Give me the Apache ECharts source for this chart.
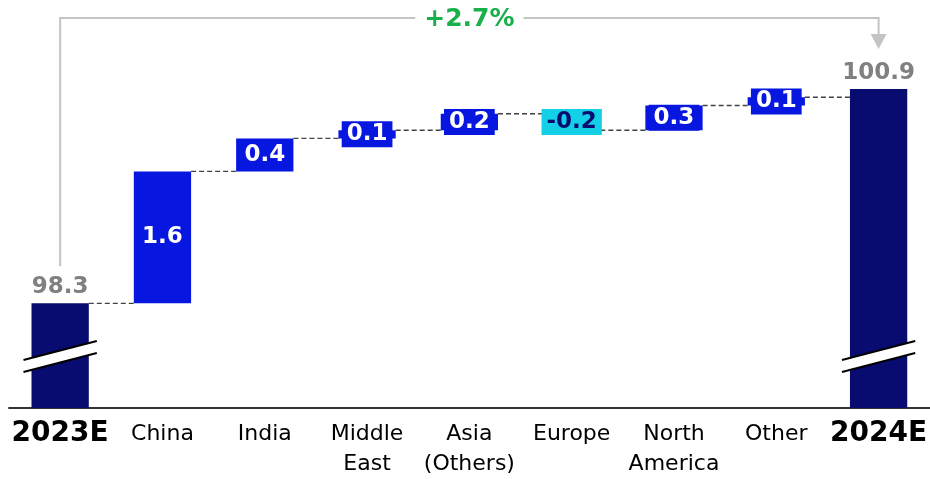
<!DOCTYPE html>
<html>
<head>
<meta charset="utf-8">
<script src="https://cdn.jsdelivr.net/npm/echarts@6/dist/echarts.min.js"></script>
<style>
  html, body { margin: 0; padding: 0; background: #fff; }
  #chart { width: 930px; height: 479px; }
</style>
</head>
<body>
<div id="chart"></div>
<script>
// Waterfall: 2023E -> 2024E, contribution by region
const categories = ['2023E', 'China', 'India', 'Middle\nEast', 'Asia\n(Others)', 'Europe', 'North\nAmerica', 'Other', '2024E'];
const startTotal = 98.3;
const deltas = [1.6, 0.4, 0.1, 0.2, -0.2, 0.3, 0.1];
const endTotal = 100.9;
const growthLabel = '+2.7%';

const NAVY = '#080b70';
const BLUE = '#0717e0';
const CYAN = '#13d0e6';
const FONT = '"DejaVu Sans", Verdana, sans-serif';
const BAR_RATIO = 0.56;

const r1 = v => Math.round(v * 10) / 10;

// Derived stacks: hidden base + visible segment, and the level each step ends at
const baseVals = [0];
const segVals = [startTotal];
const labelTexts = [startTotal.toFixed(1)];
const levels = [startTotal];
let running = startTotal;
deltas.forEach(d => {
  const next = r1(running + d);
  baseVals.push(Math.min(running, next));
  segVals.push(Math.abs(d));
  labelTexts.push(d.toFixed(1));
  running = next;
  levels.push(running);
});
baseVals.push(0);
segVals.push(endTotal);
labelTexts.push(endTotal.toFixed(1));
levels.push(endTotal);

const lastIdx = categories.length - 1;
const isTotal = i => i === 0 || i === lastIdx;

const segData = segVals.map((v, i) => {
  if (isTotal(i)) {
    return {
      value: v,
      itemStyle: { color: NAVY },
      label: { position: 'top', distance: 4, color: '#808080', backgroundColor: 'transparent', padding: 0 }
    };
  }
  const neg = deltas[i - 1] < 0;
  return {
    value: v,
    itemStyle: { color: neg ? CYAN : BLUE },
    label: {
      position: 'inside',
      color: neg ? NAVY : '#fff',
      backgroundColor: neg ? CYAN : BLUE,
      padding: [1, 5, 1, 5]
    }
  };
});

// connectors between consecutive steps
const connectorData = levels.slice(0, lastIdx).map((lv, i) => [i, lv]);
// axis-break marks on the two total bars
const breakValue = 97.66;
const breakData = [[0, breakValue], [lastIdx, breakValue]];

const chart = echarts.init(document.getElementById('chart'));

chart.setOption({
  animation: false,
  textStyle: { fontFamily: FONT },
  grid: { left: 9, width: 923, top: 0, bottom: 66, containLabel: false },
  xAxis: {
    type: 'category',
    data: categories,
    axisLine: { lineStyle: { color: '#333', width: 2 } },
    axisTick: { show: false },
    axisLabel: {
      interval: 0,
      margin: 11,
      fontSize: 22,
      lineHeight: 30,
      color: '#000',
      fontFamily: FONT,
      formatter: (v, i) => isTotal(i) ? '{t|' + v + '}' : v,
      rich: {
        t: { fontSize: 28, fontWeight: 'bold', color: '#000', fontFamily: FONT, lineHeight: 30 }
      }
    }
  },
  yAxis: {
    type: 'value',
    show: false,
    min: 97.03,
    max: 101.98,
    splitLine: { show: false }
  },
  series: [
    {
      type: 'bar',
      stack: 'wf',
      barWidth: (BAR_RATIO * 100) + '%',
      data: baseVals,
      itemStyle: { color: 'transparent' },
      silent: true
    },
    {
      type: 'bar',
      stack: 'wf',
      barWidth: (BAR_RATIO * 100) + '%',
      data: segData,
      z: 3,
      label: {
        show: true,
        fontFamily: FONT,
        fontSize: 23,
        fontWeight: 'bold',
        lineHeight: 24,
        formatter: p => labelTexts[p.dataIndex]
      }
    },
    {
      type: 'custom',
      z: 2,
      silent: true,
      data: connectorData,
      renderItem: (params, api) => {
        const i = api.value(0);
        const lv = api.value(1);
        const p = api.coord([i, lv]);
        const q = api.coord([i + 1, lv]);
        const half = api.size([1, 0])[0] * BAR_RATIO / 2;
        return {
          type: 'line',
          shape: { x1: p[0] + half, y1: p[1], x2: q[0] - half, y2: q[1] },
          style: { stroke: '#444', lineWidth: 1.3, lineDash: [5, 3] }
        };
      }
    },
    {
      type: 'custom',
      z: 5,
      silent: true,
      data: breakData,
      renderItem: (params, api) => {
        const c = api.coord([api.value(0), api.value(1)]);
        const half = api.size([1, 0])[0] * BAR_RATIO / 2 + 8;
        const x0 = c[0] - half, x1 = c[0] + half, y = c[1];
        return {
          type: 'group',
          children: [
            { type: 'polygon', shape: { points: [[x0, y + 4], [x1, y - 15], [x1, y - 3], [x0, y + 16]] }, style: { fill: '#fff' } },
            { type: 'line', shape: { x1: x0, y1: y + 4, x2: x1, y2: y - 15 }, style: { stroke: '#000', lineWidth: 2 } },
            { type: 'line', shape: { x1: x0, y1: y + 16, x2: x1, y2: y - 3 }, style: { stroke: '#000', lineWidth: 2 } }
          ]
        };
      }
    },
    {
      type: 'custom',
      z: 6,
      silent: true,
      data: [[0, startTotal]],
      renderItem: (params, api) => {
        const a = api.coord([0, startTotal]);
        const b = api.coord([lastIdx, endTotal]);
        const topY = 18;
        const leftBottom = a[1] - 37;
        const tipY = b[1] - 40;
        const headH = 15, headW = 8;
        const midX = (a[0] + b[0]) / 2;
        return {
          type: 'group',
          children: [
            {
              type: 'polyline',
              shape: { points: [[a[0], leftBottom], [a[0], topY], [b[0], topY], [b[0], tipY - headH]] },
              style: { stroke: '#c4c4c4', lineWidth: 2, fill: null }
            },
            {
              type: 'polygon',
              shape: { points: [[b[0] - headW, tipY - headH], [b[0] + headW, tipY - headH], [b[0], tipY]] },
              style: { fill: '#c4c4c4' }
            },
            {
              type: 'text',
              style: {
                text: growthLabel,
                x: midX, y: topY + 1,
                align: 'center', verticalAlign: 'middle',
                fill: '#19b04b',
                fontFamily: FONT, fontSize: 25, fontWeight: 'bold',
                backgroundColor: '#fff',
                padding: [2, 9]
              }
            }
          ]
        };
      }
    }
  ]
});
</script>
</body>
</html>
